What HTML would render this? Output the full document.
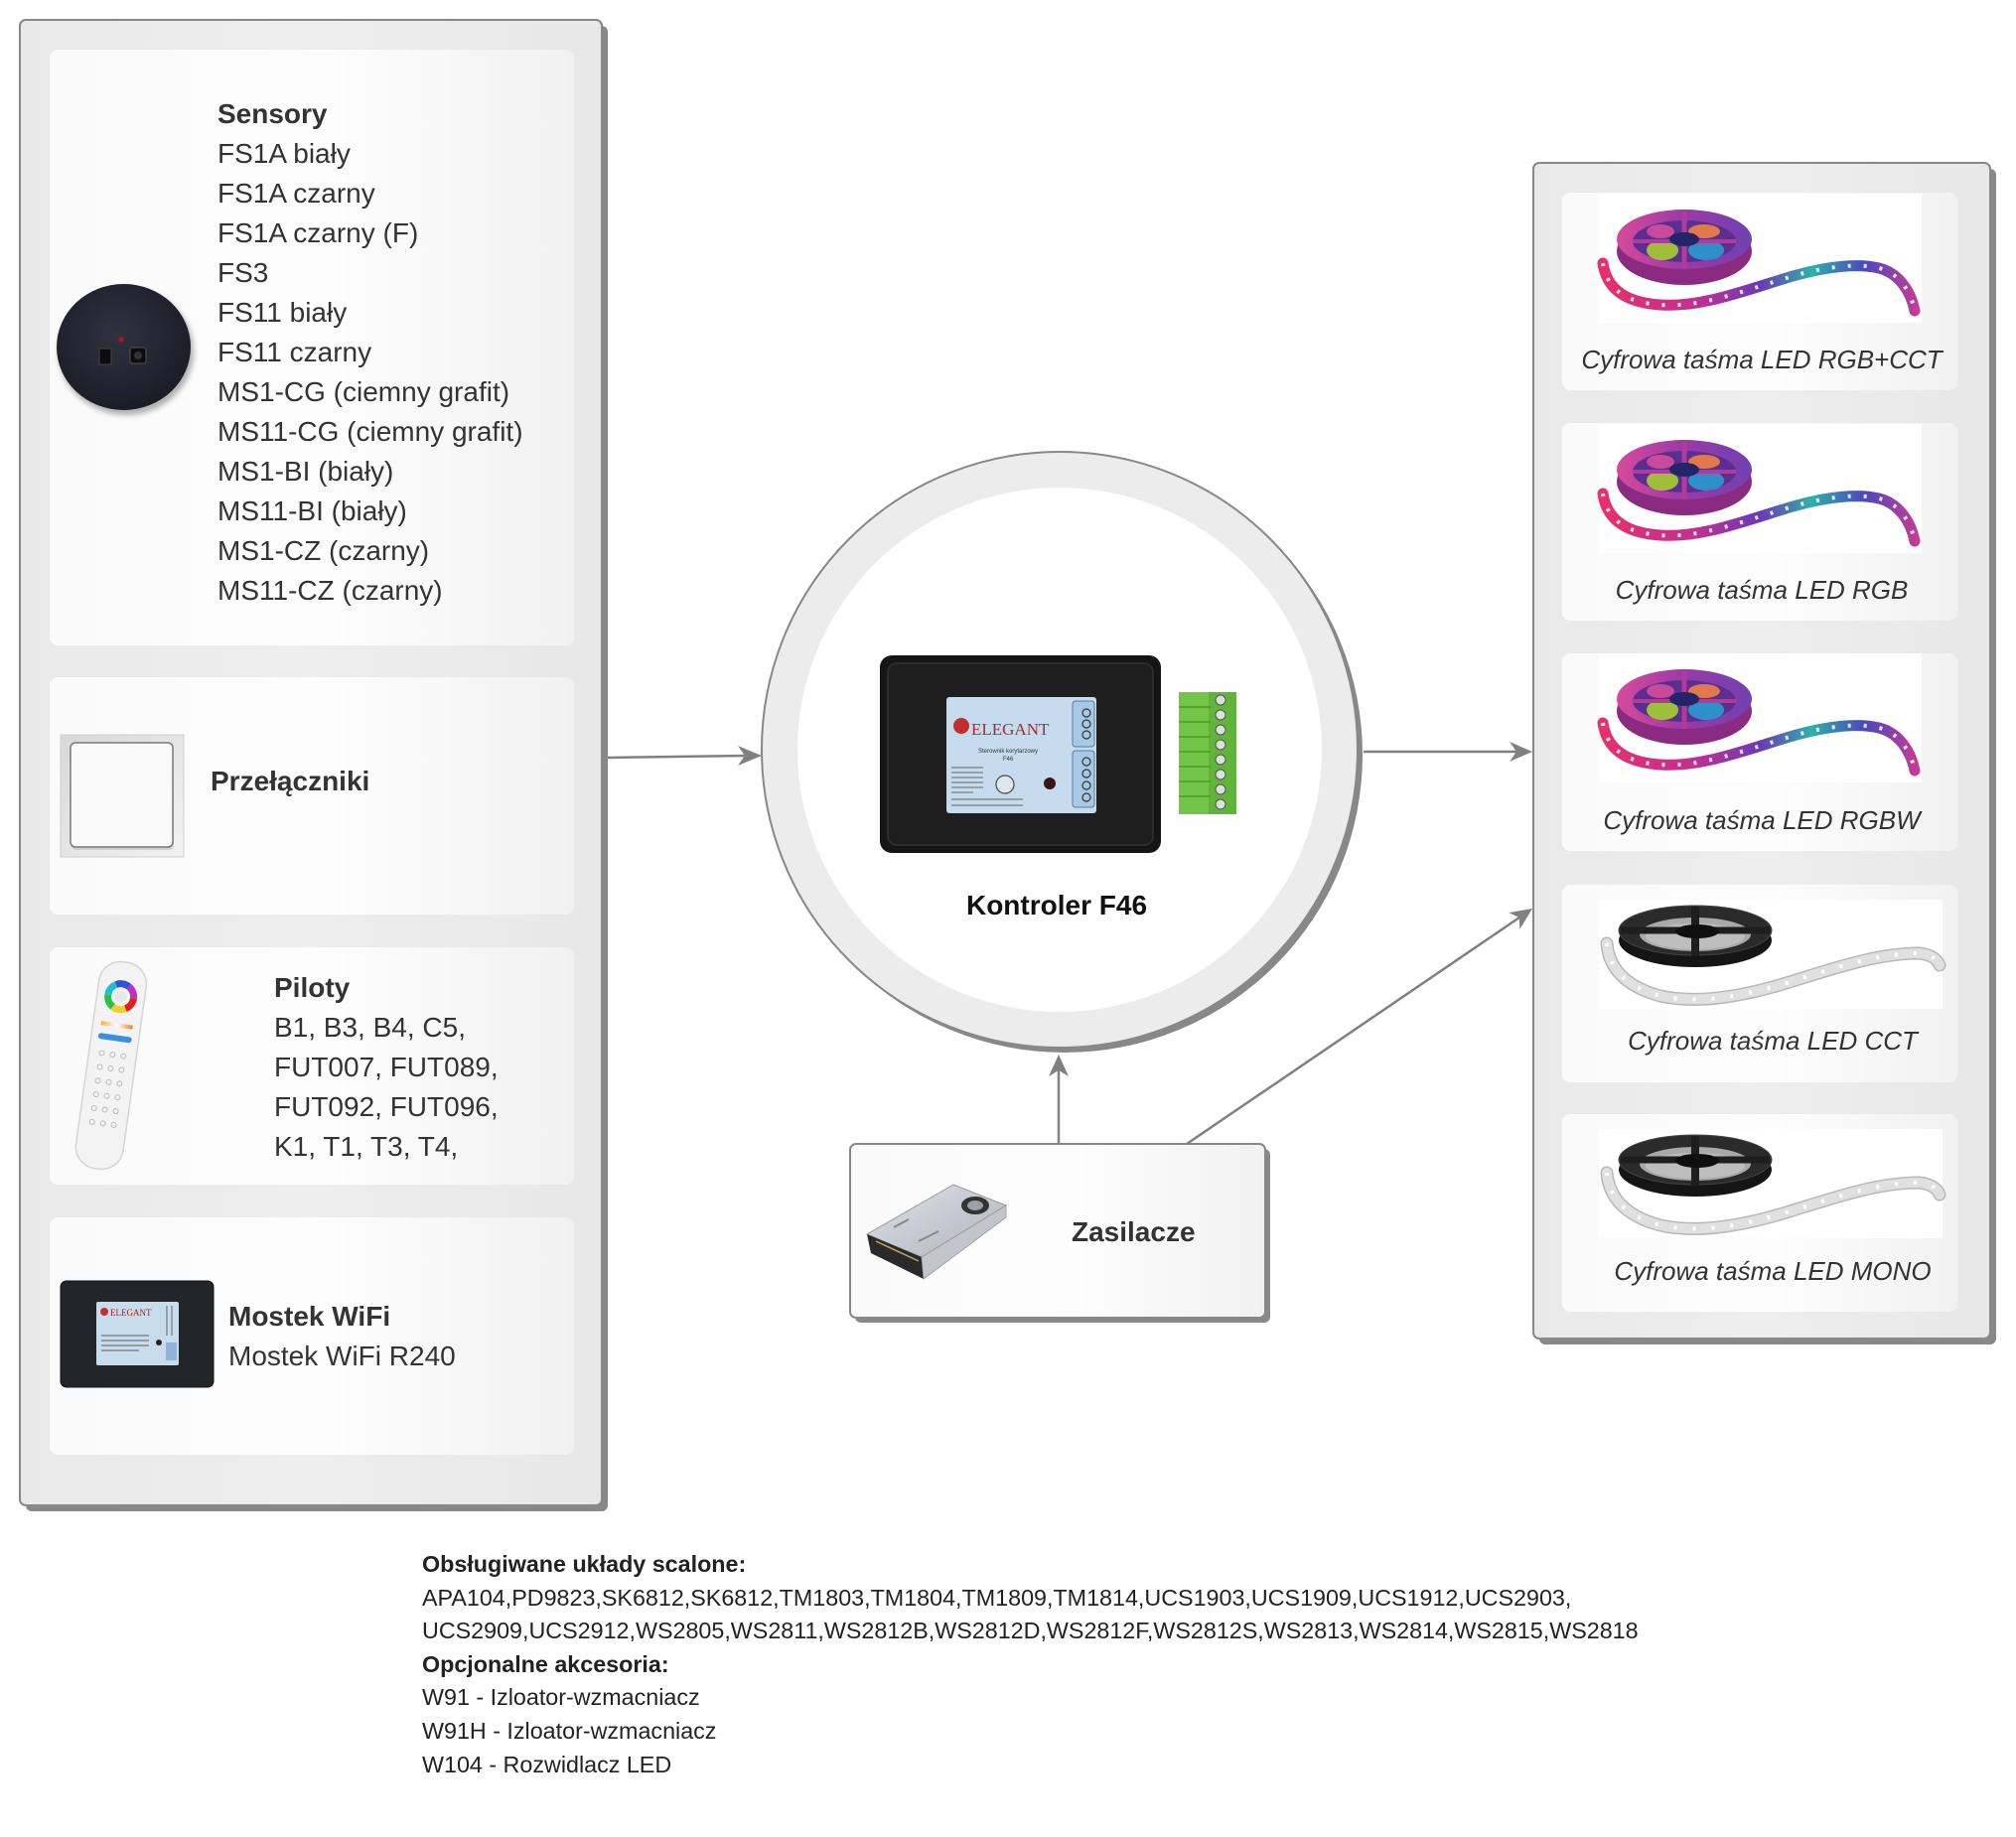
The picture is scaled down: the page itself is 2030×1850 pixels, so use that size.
<!DOCTYPE html>
<html><head><meta charset="utf-8"><style>
html,body{margin:0;padding:0;background:#fff;}
svg{display:block;font-family:"Liberation Sans",sans-serif;}
</style></head><body>
<svg width="2030" height="1850" viewBox="0 0 2030 1850" xmlns="http://www.w3.org/2000/svg">
<defs>
  <linearGradient id="panelG" x1="0" y1="0" x2="1" y2="0">
    <stop offset="0" stop-color="#e9e9e9"/><stop offset="0.5" stop-color="#eeeeee"/><stop offset="1" stop-color="#e7e7e7"/>
  </linearGradient>
  <linearGradient id="cardG" x1="0" y1="0" x2="1" y2="0">
    <stop offset="0" stop-color="#fafafa"/><stop offset="0.55" stop-color="#fdfdfd"/><stop offset="1" stop-color="#f1f1f1"/>
  </linearGradient>
  <linearGradient id="stripG" gradientUnits="userSpaceOnUse" x1="0" y1="0" x2="325" y2="0">
    <stop offset="0" stop-color="#e8306a"/><stop offset="0.3" stop-color="#c03092"/><stop offset="0.5" stop-color="#6a3ab8"/>
    <stop offset="0.66" stop-color="#2fb0a8"/><stop offset="0.82" stop-color="#4a48c0"/><stop offset="1" stop-color="#d03a90"/>
  </linearGradient>
  <linearGradient id="spoolG" x1="0" y1="0" x2="1" y2="0">
    <stop offset="0" stop-color="#d84a9a"/><stop offset="0.5" stop-color="#9a3aa8"/><stop offset="1" stop-color="#7040b0"/>
  </linearGradient>
  <linearGradient id="swFrame" x1="0" y1="0" x2="1" y2="1">
    <stop offset="0" stop-color="#d8d8d8"/><stop offset="1" stop-color="#f2f2f2"/>
  </linearGradient>
  <linearGradient id="warmG" x1="0" y1="0" x2="1" y2="0">
    <stop offset="0" stop-color="#f0b040"/><stop offset="0.5" stop-color="#ffffff"/><stop offset="1" stop-color="#f08030"/>
  </linearGradient>
  <linearGradient id="psuTop" x1="0" y1="0" x2="1" y2="1">
    <stop offset="0" stop-color="#dfe2e8"/><stop offset="1" stop-color="#aeb3bc"/>
  </linearGradient>
  <radialGradient id="sensG" cx="0.45" cy="0.4" r="0.6">
    <stop offset="0" stop-color="#30323f"/><stop offset="1" stop-color="#1b1c26"/>
  </radialGradient>
  <filter id="blur4"><feGaussianBlur stdDeviation="3"/></filter>

  <g id="rgbstrip">
    <rect width="325" height="130" fill="#fff"/>
    <path d="M4,70 C8,98 30,110 62,112 C105,115 150,96 199,82 C232,73 262,70 282,75 C302,80 314,98 318,118" fill="none" stroke="url(#stripG)" stroke-width="11" stroke-linecap="round"/>
    <path d="M4,70 C8,98 30,110 62,112 C105,115 150,96 199,82 C232,73 262,70 282,75 C302,80 314,98 318,118" fill="none" stroke="#fff" stroke-width="4" stroke-dasharray="3 13" opacity="0.85"/>
    <ellipse cx="86" cy="58" rx="68" ry="34" fill="#8a2a80"/>
    <ellipse cx="86" cy="46" rx="68" ry="30" fill="url(#spoolG)"/>
    <ellipse cx="86" cy="48" rx="52" ry="21" fill="#5a2f8f"/>
    <ellipse cx="64" cy="57" rx="16" ry="10" fill="#9fbf3a"/>
    <ellipse cx="108" cy="57" rx="18" ry="10" fill="#2f8fc8"/>
    <ellipse cx="106" cy="38" rx="16" ry="7" fill="#e07a4a"/>
    <ellipse cx="62" cy="38" rx="14" ry="7" fill="#c84a9a"/>
    <line x1="86" y1="18" x2="86" y2="76" stroke="#b23a9a" stroke-width="5"/>
    <line x1="34" y1="48" x2="138" y2="48" stroke="#b23a9a" stroke-width="4"/>
    <ellipse cx="86" cy="46" rx="15" ry="7" fill="#24246a"/>
  </g>

  <g id="monostrip">
    <rect width="346" height="110" fill="#fff"/>
    <path d="M8,44 C10,70 28,88 62,97 C102,106 150,96 192,83 C240,68 282,54 322,54 C334,55 341,60 343,66" fill="none" stroke="#b8b8b8" stroke-width="13" stroke-linecap="round"/>
    <path d="M8,44 C10,70 28,88 62,97 C102,106 150,96 192,83 C240,68 282,54 322,54 C334,55 341,60 343,66" fill="none" stroke="#e0e0e0" stroke-width="10" stroke-linecap="round"/>
    <path d="M8,44 C10,70 28,88 62,97 C102,106 150,96 192,83 C240,68 282,54 322,54 C334,55 341,60 343,66" fill="none" stroke="#fff" stroke-width="4" stroke-dasharray="3 16"/>
    <ellipse cx="97" cy="41" rx="77" ry="27" fill="#151515"/>
    <ellipse cx="97" cy="31" rx="77" ry="25" fill="#2b2b2b" stroke="#444" stroke-width="1"/>
    <ellipse cx="97" cy="35" rx="56" ry="17" fill="#a9a9a9"/>
    <ellipse cx="97" cy="37" rx="50" ry="13" fill="#bdbdbd"/>
    <line x1="22" y1="31" x2="172" y2="31" stroke="#1e1e1e" stroke-width="7"/>
    <line x1="97" y1="7" x2="97" y2="57" stroke="#1e1e1e" stroke-width="8"/>
    <ellipse cx="99" cy="32" rx="22" ry="7" fill="#0f0f0f"/>
  </g>
</defs>

<!-- LEFT PANEL -->
<rect x="26" y="26" width="586" height="1496" rx="6" fill="#888"/>
<rect x="20" y="20" width="586" height="1496" rx="6" fill="url(#panelG)" stroke="#888" stroke-width="2"/>
<rect x="50" y="50" width="528" height="600" rx="8" fill="url(#cardG)"/>
<rect x="50" y="682" width="528" height="239" rx="8" fill="url(#cardG)"/>
<rect x="50" y="954" width="528" height="239" rx="8" fill="url(#cardG)"/>
<rect x="50" y="1226" width="528" height="239" rx="8" fill="url(#cardG)"/>

<!-- sensor disk -->
<ellipse cx="127" cy="354" rx="68" ry="64" fill="#000" opacity="0.3" filter="url(#blur4)"/>
<ellipse cx="124.5" cy="349.5" rx="67.5" ry="63.5" fill="url(#sensG)"/>
<circle cx="122" cy="342" r="2.5" fill="#c01010"/>
<rect x="100" y="351" width="12" height="16" fill="#0d0d0d" stroke="#444" stroke-width="1"/>
<rect x="131" y="350" width="16" height="16" rx="2" fill="#0d0d0d" stroke="#555" stroke-width="1"/>
<circle cx="139" cy="358" r="4" fill="#333"/>

<g font-size="28" fill="#333">
  <text x="219" y="124" font-weight="bold">Sensory</text>
  <text x="219" y="164">FS1A biały</text>
  <text x="219" y="204">FS1A czarny</text>
  <text x="219" y="244">FS1A czarny (F)</text>
  <text x="219" y="284">FS3</text>
  <text x="219" y="324">FS11 biały</text>
  <text x="219" y="364">FS11 czarny</text>
  <text x="219" y="404">MS1-CG (ciemny grafit)</text>
  <text x="219" y="444">MS11-CG (ciemny grafit)</text>
  <text x="219" y="484">MS1-BI (biały)</text>
  <text x="219" y="524">MS11-BI (biały)</text>
  <text x="219" y="564">MS1-CZ (czarny)</text>
  <text x="219" y="604">MS11-CZ (czarny)</text>

  <text x="212" y="796" font-weight="bold">Przełączniki</text>

  <text x="276" y="1004" font-weight="bold">Piloty</text>
  <text x="276" y="1044">B1, B3, B4, C5,</text>
  <text x="276" y="1084">FUT007, FUT089,</text>
  <text x="276" y="1124">FUT092, FUT096,</text>
  <text x="276" y="1164">K1, T1, T3, T4,</text>

  <text x="230" y="1335" font-weight="bold">Mostek WiFi</text>
  <text x="230" y="1375">Mostek WiFi R240</text>
</g>

<!-- switch -->
<rect x="61" y="740" width="124" height="123" fill="url(#swFrame)" stroke="#cfcfcf" stroke-width="1"/>
<rect x="72" y="750" width="103" height="106" rx="5" fill="#d0d0d0"/>
<rect x="71" y="748" width="103" height="105" rx="5" fill="#f9f9f9" stroke="#7a7a7a" stroke-width="1.5"/>

<!-- remote -->
<g transform="rotate(8 112 1072)">
  <rect x="88" y="968" width="48" height="210" rx="22" fill="#f3f3f3" stroke="#d6d6d6" stroke-width="1.5"/>
  <circle cx="112" cy="1003" r="13" fill="none" stroke="#e02020" stroke-width="7" stroke-dasharray="13.6 68.1" stroke-dashoffset="0"/>
  <circle cx="112" cy="1003" r="13" fill="none" stroke="#f0d020" stroke-width="7" stroke-dasharray="13.6 68.1" stroke-dashoffset="-13.6"/>
  <circle cx="112" cy="1003" r="13" fill="none" stroke="#30c040" stroke-width="7" stroke-dasharray="13.6 68.1" stroke-dashoffset="-27.2"/>
  <circle cx="112" cy="1003" r="13" fill="none" stroke="#20c0d0" stroke-width="7" stroke-dasharray="13.6 68.1" stroke-dashoffset="-40.8"/>
  <circle cx="112" cy="1003" r="13" fill="none" stroke="#3050e0" stroke-width="7" stroke-dasharray="13.6 68.1" stroke-dashoffset="-54.4"/>
  <circle cx="112" cy="1003" r="13" fill="none" stroke="#c030c0" stroke-width="7" stroke-dasharray="13.6 68.1" stroke-dashoffset="-68"/>
  <circle cx="112" cy="1003" r="6" fill="#e8e8e8"/>
  <rect x="96" y="1030" width="32" height="4" fill="url(#warmG)"/>
  <rect x="95" y="1042" width="34" height="6" rx="3" fill="#3a8fe0"/>
  <g fill="none" stroke="#bbb" stroke-width="1">
    <circle cx="101" cy="1062" r="2.5"/><circle cx="112" cy="1062" r="2.5"/><circle cx="123" cy="1062" r="2.5"/>
    <circle cx="101" cy="1076" r="2.5"/><circle cx="112" cy="1076" r="2.5"/><circle cx="123" cy="1076" r="2.5"/>
    <circle cx="101" cy="1090" r="2.5"/><circle cx="112" cy="1090" r="2.5"/><circle cx="123" cy="1090" r="2.5"/>
    <circle cx="101" cy="1104" r="2.5"/><circle cx="112" cy="1104" r="2.5"/><circle cx="123" cy="1104" r="2.5"/>
    <circle cx="101" cy="1118" r="2.5"/><circle cx="112" cy="1118" r="2.5"/><circle cx="123" cy="1118" r="2.5"/>
    <circle cx="101" cy="1132" r="2.5"/><circle cx="112" cy="1132" r="2.5"/><circle cx="123" cy="1132" r="2.5"/>
  </g>
</g>

<!-- wifi bridge -->
<rect x="61" y="1290" width="154" height="107" rx="6" fill="#22262b" stroke="#111" stroke-width="1"/>
<rect x="97" y="1311" width="83" height="64" rx="2" fill="#c7dced"/>
<circle cx="105" cy="1321" r="4" fill="#c03030"/>
<text x="111" y="1325" font-size="9" font-family="Liberation Serif, serif" fill="#a02020">ELEGANT</text>
<g stroke="#777" stroke-width="1.2">
  <line x1="102" y1="1345" x2="150" y2="1345"/><line x1="102" y1="1350" x2="150" y2="1350"/>
  <line x1="102" y1="1355" x2="150" y2="1355"/><line x1="102" y1="1360" x2="140" y2="1360"/>
  <line x1="168" y1="1315" x2="168" y2="1345"/><line x1="173" y1="1315" x2="173" y2="1345"/>
</g>
<rect x="167" y="1352" width="11" height="18" fill="#8fb4dc"/>
<circle cx="160" cy="1352" r="3" fill="#222"/>

<!-- CENTER CIRCLE -->
<circle cx="1072" cy="760" r="300" fill="#888"/>
<circle cx="1067" cy="755" r="300" fill="#ececec" stroke="#888" stroke-width="2"/>
<circle cx="1067" cy="755" r="264" fill="#ffffff"/>

<!-- controller -->
<rect x="886" y="660" width="283" height="199" rx="12" fill="#151515"/>
<rect x="894" y="668" width="267" height="183" rx="9" fill="#1e1e1e" stroke="#2c2c2c" stroke-width="2"/>
<rect x="953" y="702" width="151" height="117" rx="3" fill="#c6dbed"/>
<circle cx="968" cy="731" r="8" fill="#c0302a"/>
<text x="978" y="740" font-size="17" font-family="Liberation Serif, serif" fill="#b02a2a">ELEGANT</text>
<text x="1015" y="758" font-size="6" text-anchor="middle" fill="#333">Sterownik korytarzowy</text>
<text x="1015" y="766" font-size="6" text-anchor="middle" fill="#333">F46</text>
<g stroke="#666" stroke-width="1">
  <line x1="958" y1="773" x2="990" y2="773"/><line x1="958" y1="778" x2="990" y2="778"/>
  <line x1="958" y1="783" x2="990" y2="783"/><line x1="958" y1="788" x2="990" y2="788"/>
  <line x1="958" y1="793" x2="990" y2="793"/><line x1="958" y1="798" x2="980" y2="798"/>
  <line x1="958" y1="805" x2="1030" y2="805"/><line x1="958" y1="811" x2="1030" y2="811"/>
</g>
<circle cx="1012" cy="790" r="9" fill="#dfe6ee" stroke="#444" stroke-width="1.2"/>
<circle cx="1057" cy="789" r="6" fill="#3a1515"/>
<rect x="1080" y="706" width="22" height="46" rx="3" fill="#a8c8e6" stroke="#5a7ea0"/>
<rect x="1080" y="756" width="22" height="57" rx="3" fill="#a8c8e6" stroke="#5a7ea0"/>
<g fill="none" stroke="#333" stroke-width="1.2">
  <circle cx="1094" cy="718" r="4"/><circle cx="1094" cy="729" r="4"/><circle cx="1094" cy="740" r="4"/>
  <circle cx="1094" cy="767" r="4"/><circle cx="1094" cy="779" r="4"/><circle cx="1094" cy="791" r="4"/><circle cx="1094" cy="803" r="4"/>
</g>
<!-- green terminal -->
<rect x="1187" y="697" width="58" height="123" fill="#62b33a"/>
<rect x="1187" y="697" width="30" height="123" fill="#74c44a"/>
<g stroke="#4c9a2a" stroke-width="1.5">
  <line x1="1187" y1="712" x2="1219" y2="712"/><line x1="1187" y1="727" x2="1219" y2="727"/>
  <line x1="1187" y1="742" x2="1219" y2="742"/><line x1="1187" y1="757" x2="1219" y2="757"/>
  <line x1="1187" y1="772" x2="1219" y2="772"/><line x1="1187" y1="787" x2="1219" y2="787"/>
  <line x1="1187" y1="802" x2="1219" y2="802"/>
</g>
<g fill="#d9e2d9" stroke="#555" stroke-width="1">
  <circle cx="1229" cy="705" r="5"/><circle cx="1229" cy="720" r="5"/><circle cx="1229" cy="735" r="5"/>
  <circle cx="1229" cy="750" r="5"/><circle cx="1229" cy="765" r="5"/><circle cx="1229" cy="780" r="5"/>
  <circle cx="1229" cy="795" r="5"/><circle cx="1229" cy="810" r="5"/>
</g>
<text x="1064" y="921" font-size="28" font-weight="bold" text-anchor="middle" fill="#111">Kontroler F46</text>

<!-- ZASILACZE BOX -->
<rect x="861" y="1157" width="418" height="175" rx="6" fill="#888"/>
<rect x="856" y="1152" width="418" height="175" rx="6" fill="url(#cardG)" stroke="#888" stroke-width="2"/>
<polygon points="873,1243 960,1193 1013,1214 928,1266" fill="url(#psuTop)" stroke="#999" stroke-width="1"/>
<polygon points="873,1243 928,1266 930,1288 877,1262" fill="#2a2a2a"/>
<polygon points="928,1266 1013,1214 1013,1226 930,1288" fill="#c2c6cc" stroke="#999" stroke-width="0.8"/>
<ellipse cx="982" cy="1214" rx="14" ry="9" fill="#333"/>
<ellipse cx="982" cy="1214" rx="8" ry="5" fill="#9aa0a8"/>
<g stroke="#c9a060" stroke-width="1.5"><line x1="882" y1="1250" x2="925" y2="1270"/></g>
<g stroke="#888" stroke-width="2"><line x1="900" y1="1236" x2="915" y2="1228"/><line x1="925" y1="1250" x2="945" y2="1240"/></g>
<text x="1079" y="1250" font-size="28" font-weight="bold" fill="#333">Zasilacze</text>

<!-- RIGHT PANEL -->
<rect x="1550" y="170" width="460" height="1184" rx="6" fill="#888"/>
<rect x="1544" y="164" width="460" height="1184" rx="6" fill="url(#panelG)" stroke="#888" stroke-width="2"/>
<rect x="1573" y="194" width="398" height="199" rx="8" fill="url(#cardG)"/>
<rect x="1573" y="426" width="398" height="199" rx="8" fill="url(#cardG)"/>
<rect x="1573" y="658" width="398" height="199" rx="8" fill="url(#cardG)"/>
<rect x="1573" y="891" width="398" height="199" rx="8" fill="url(#cardG)"/>
<rect x="1573" y="1122" width="398" height="199" rx="8" fill="url(#cardG)"/>

<use href="#rgbstrip" x="1610" y="195"/>
<use href="#rgbstrip" x="1610" y="427"/>
<use href="#rgbstrip" x="1610" y="658"/>
<use href="#monostrip" x="1610" y="906"/>
<use href="#monostrip" x="1610" y="1137"/>

<g font-size="26" font-style="italic" fill="#333" text-anchor="middle">
  <text x="1774" y="371">Cyfrowa taśma LED RGB+CCT</text>
  <text x="1774" y="603">Cyfrowa taśma LED RGB</text>
  <text x="1774" y="835">Cyfrowa taśma LED RGBW</text>
  <text x="1785" y="1057">Cyfrowa taśma LED CCT</text>
  <text x="1785" y="1289">Cyfrowa taśma LED MONO</text>
</g>

<!-- CONNECTORS -->
<g stroke="#808080" stroke-width="2.5" fill="none">
  <line x1="612" y1="763" x2="752" y2="761"/>
  <line x1="1373" y1="757" x2="1528" y2="757"/>
  <line x1="1066" y1="1152" x2="1066" y2="1078"/>
  <line x1="1195" y1="1152" x2="1530" y2="924"/>
</g>
<g fill="#808080">
  <polygon points="767,761 743,751 750,761 743,771"/>
  <polygon points="1543,757 1520,747 1527,757 1520,767"/>
  <polygon points="1066,1062 1056,1084 1066,1078 1076,1084"/>
  <polygon points="1543,915 1530.4,935.7 1529.8,924 1519.2,919.1"/>
</g>

<!-- BOTTOM TEXT -->
<g font-size="23.3" fill="#222">
  <text x="425" y="1583" font-weight="bold">Obsługiwane układy scalone:</text>
  <text x="425" y="1617">APA104,PD9823,SK6812,SK6812,TM1803,TM1804,TM1809,TM1814,UCS1903,UCS1909,UCS1912,UCS2903,</text>
  <text x="425" y="1650">UCS2909,UCS2912,WS2805,WS2811,WS2812B,WS2812D,WS2812F,WS2812S,WS2813,WS2814,WS2815,WS2818</text>
  <text x="425" y="1684" font-weight="bold">Opcjonalne akcesoria:</text>
  <text x="425" y="1717">W91 - Izloator-wzmacniacz</text>
  <text x="425" y="1751">W91H - Izloator-wzmacniacz</text>
  <text x="425" y="1785">W104 - Rozwidlacz LED</text>
</g>
</svg>
</body></html>
